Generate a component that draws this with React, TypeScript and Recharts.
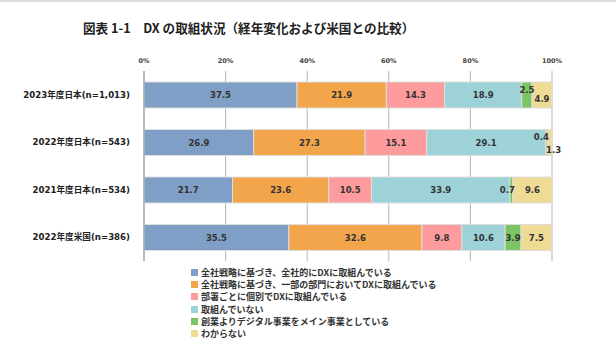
import React from "react";
import {
  BarChart,
  Bar,
  XAxis,
  YAxis,
  CartesianGrid,
  LabelList,
} from "recharts";

const CATEGORIES = [
  "2023年度日本(n=1,013)",
  "2022年度日本(n=543)",
  "2021年度日本(n=534)",
  "2022年度米国(n=386)",
];

const SERIES_NAMES = [
  "全社戦略に基づき、全社的にDXに取組んでいる",
  "全社戦略に基づき、一部の部門においてDXに取組んでいる",
  "部署ごとに個別でDXに取組んでいる",
  "取組んでいない",
  "創業よりデジタル事業をメイン事業としている",
  "わからない",
];

const S1 = [37.5, 26.9, 21.7, 35.5];
const S2 = [21.9, 27.3, 23.6, 32.6];
const S3 = [14.3, 15.1, 10.5, 9.8];
const S4 = [18.9, 29.1, 33.9, 10.6];
const S5 = [2.5, 0.4, 0.7, 3.9];
const S6 = [4.9, 1.3, 9.6, 7.5];

const X_TICKS = [0, 20, 40, 60, 80, 100];

const COLORS = ["#7f9fc6", "#f2a54a", "#fd9b9d", "#9dd2d8", "#7cc464", "#f0db95"];

// hand-moved labels for the thin segments (row-series -> dx, dy)
const LABEL_NUDGE: Record<string, [number, number]> = {
  "0-4": [0, -5],
  "0-5": [0, 4],
  "1-4": [-5, -6],
  "1-5": [4, 7],
  "2-4": [-4, 0],
};

const ALL = [S1, S2, S3, S4, S5, S6];
const data = CATEGORIES.map((name, i) => {
  const row: any = { name };
  ALL.forEach((s, k) => (row["s" + k] = s[i]));
  return row;
});

const NUM_FONT = "'DejaVu Sans', 'Noto Sans CJK JP', sans-serif";
const JP_FONT = "'Noto Sans CJK JP', sans-serif";

function makeLabel(k: number) {
  return (props: any) => {
    const { x, y, width, height, value, index } = props;
    const nudge = LABEL_NUDGE[`${index}-${k}`] || [0, 0];
    return (
      <text
        x={x + width / 2 + nudge[0]}
        y={y + height / 2 + nudge[1]}
        textAnchor="middle"
        dominantBaseline="central"
        fontSize={8.5}
        fontWeight="bold"
        fontFamily={NUM_FONT}
        fill="#333"
      >
        {value.toFixed(1)}
      </text>
    );
  };
}

export default function App() {
  return (
    <div
      style={{
        position: "fixed",
        left: 0,
        top: 0,
        width: 616,
        height: 360,
        background: "#fff",
        borderTop: "2px solid #dcdcdc",
        boxSizing: "border-box",
      }}
    >
      <div
        style={{
          position: "absolute",
          left: 83,
          top: 16,
          fontFamily: JP_FONT,
          fontWeight: 700,
          fontSize: 12.6,
          color: "#222",
          whiteSpace: "nowrap",
        }}
      >
        図表 1-1　DX の取組状況（経年変化および米国との比較）
      </div>
      <div style={{ position: "absolute", left: 0, top: -2 }}>
        <BarChart
          width={616}
          height={360}
          data={data}
          layout="vertical"
          barSize={26}
          margin={{ top: 51, right: 64, bottom: 99, left: 0 }}
        >
          <CartesianGrid horizontal={false} stroke="#b5b5b5" />
          <XAxis
            type="number"
            orientation="top"
            domain={[0, 100]}
            ticks={X_TICKS}
            allowDataOverflow
            tickFormatter={(v) => `${v}%`}
            axisLine={false}
            tickLine={false}
            height={20}
            tick={{ fontSize: 6.5, fontWeight: "bold", fill: "#444", fontFamily: NUM_FONT }}
          />
          <YAxis
            type="category"
            dataKey="name"
            width={144}
            axisLine={{ stroke: "#9a9a9a" }}
            tickLine={false}
            tickMargin={8}
            tick={{ fontSize: 8.6, fontWeight: "bold", fill: "#222", fontFamily: NUM_FONT }}
          />
          {SERIES_NAMES.map((nm, k) => (
            <Bar
              key={k}
              dataKey={"s" + k}
              name={nm}
              stackId="a"
              fill={COLORS[k]}
              stroke="#dedede"
              strokeWidth={1}
              isAnimationActive={false}
            >
              <LabelList dataKey={"s" + k} content={makeLabel(k)} />
            </Bar>
          ))}
        </BarChart>
      </div>
      <div style={{ position: "absolute", left: 191, top: 264 }}>
        {SERIES_NAMES.map((nm, k) => (
          <div
            key={k}
            style={{
              display: "flex",
              alignItems: "center",
              height: 12.3,
              fontFamily: JP_FONT,
              fontSize: 9,
              fontWeight: 700,
              color: "#333",
              whiteSpace: "nowrap",
            }}
          >
            <span
              style={{
                display: "inline-block",
                width: 7,
                height: 7,
                background: COLORS[k],
                marginRight: 3,
              }}
            />
            {nm}
          </div>
        ))}
      </div>
    </div>
  );
}
